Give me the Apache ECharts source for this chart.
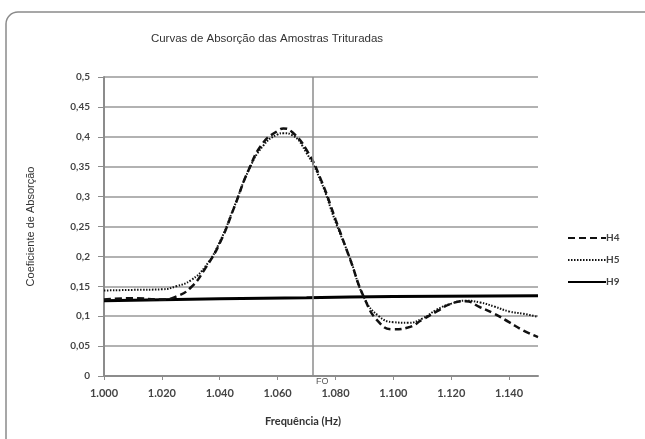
<!DOCTYPE html>
<html>
<head>
<meta charset="utf-8">
<script src="https://cdn.jsdelivr.net/npm/echarts@6/dist/echarts.min.js"></script>
<style>
  html, body { margin: 0; padding: 0; background: #fff; }
  #chart { width: 645px; height: 439px; }
</style>
</head>
<body>
<div id="chart"></div>
<script>
  // frequências (Hz) das leituras H4 / H5
  const freq = [1000, 1010, 1020, 1025, 1030, 1035, 1040, 1045, 1050, 1055, 1060, 1062, 1065, 1070, 1075,
    1080, 1085, 1090, 1095, 1100, 1105, 1110, 1115, 1120, 1125, 1130, 1135, 1140, 1145, 1150]
  const h4 = [0.128, 0.130, 0.128, 0.133, 0.148, 0.180, 0.222, 0.282, 0.345, 0.390, 0.410, 0.414, 0.408, 0.378, 0.328,
    0.262, 0.196, 0.130, 0.090, 0.078, 0.081, 0.094, 0.108, 0.121, 0.125, 0.115, 0.104, 0.090, 0.076, 0.065]
  const h5 = [0.143, 0.144, 0.145, 0.150, 0.160, 0.183, 0.224, 0.283, 0.344, 0.385, 0.404, 0.406, 0.403, 0.373, 0.325,
    0.258, 0.197, 0.130, 0.100, 0.090, 0.089, 0.096, 0.111, 0.121, 0.126, 0.123, 0.116, 0.108, 0.104, 0.099]
  const h9Freq = [1000, 1040, 1070, 1100, 1150]
  const h9 = [0.126, 0.129, 0.131, 0.133, 0.134]
  const foFreq = 1072

  const pairs = (xs, ys) => xs.map((x, i) => [x, ys[i]])

  const chart = echarts.init(document.getElementById('chart'))
  const font = 'Lato, "Open Sans", sans-serif'

  const option = {
    backgroundColor: '#fff',
    animation: false,
    title: {
      text: 'Curvas de Absorção das Amostras Trituradas',
      left: 262,
      top: 28,
      textAlign: 'center',
      textStyle: { fontFamily: 'Liberation Sans, Arial', fontSize: 11.5, fontWeight: 'normal', color: '#333' },
    },
    graphic: [
      {
        // moldura do gráfico
        type: 'rect',
        shape: { x: 6, y: 12, width: 700, height: 500, r: 12 },
        style: { fill: 'none', stroke: '#8a8a8a', lineWidth: 1.5 },
        z: -1,
      },
    ],
    legend: {
      orient: 'vertical',
      left: 562,
      top: 228,
      itemWidth: 38,
      itemHeight: 12,
      itemGap: 12,
      itemStyle: { opacity: 0 }, // só a linha, sem o círculo
      textStyle: { fontFamily: font, fontSize: 10, fontWeight: 'bold', color: '#444', padding: [0, 0, 0, -5] },
      data: ['H4', 'H5', 'H9'],
    },
    grid: { left: 104, right: 107, top: 77, bottom: 63 },
    xAxis: {
      type: 'value',
      min: 1000,
      max: 1150,
      interval: 20,
      name: 'Frequência (Hz)',
      nameLocation: 'middle',
      nameGap: 40,
      nameTextStyle: { fontFamily: font, fontSize: 11, fontWeight: 'bold', color: '#333', padding: [0, 36, 0, 0] },
      axisLine: { lineStyle: { color: '#8c8c8c', width: 2 } },
      axisTick: { show: true, length: 4, lineStyle: { color: '#8c8c8c' } },
      axisLabel: {
        margin: 12,
        showMaxLabel: false,
        fontFamily: font,
        fontSize: 11,
        fontWeight: 'bold',
        color: '#444',
        formatter: (v) => (v / 1000).toFixed(3),
      },
      splitLine: { show: false },
    },
    yAxis: {
      type: 'value',
      min: 0,
      max: 0.5,
      interval: 0.05,
      name: 'Coeficiente de Absorção',
      nameLocation: 'middle',
      nameGap: 68,
      nameTextStyle: { fontFamily: 'Liberation Sans, Arial', fontSize: 11, color: '#333' },
      axisLine: { show: true, lineStyle: { color: '#8c8c8c', width: 2 } },
      axisTick: { show: true, length: 6, lineStyle: { color: '#8c8c8c' } },
      axisLabel: {
        margin: 14,
        fontFamily: font,
        fontSize: 10,
        fontWeight: 'bold',
        color: '#444',
        formatter: (v) => String(+v.toFixed(2)).replace('.', ','),
      },
      splitLine: { lineStyle: { color: '#999', width: 1.5 } },
    },
    series: [
      {
        name: 'H4',
        type: 'line',
        smooth: true,
        symbol: 'none',
        lineStyle: { color: '#111', width: 2.5, type: [7, 4] },
        itemStyle: { color: '#111' },
        data: pairs(freq, h4),
        z: 3,
      },
      {
        name: 'H5',
        type: 'line',
        smooth: true,
        symbol: 'none',
        lineStyle: { color: '#111', width: 2, type: [1.5, 1.5] },
        itemStyle: { color: '#111' },
        data: pairs(freq, h5),
        z: 4,
      },
      {
        name: 'H9',
        type: 'line',
        smooth: true,
        symbol: 'none',
        lineStyle: { color: '#000', width: 3 },
        itemStyle: { color: '#000' },
        data: pairs(h9Freq, h9),
        z: 2,
        markLine: {
          silent: true,
          symbol: 'none',
          lineStyle: { color: '#8c8c8c', width: 1.5, type: 'solid' },
          label: {
            show: true,
            position: 'start',
            formatter: 'FO',
            fontFamily: 'Liberation Sans, Arial',
            fontSize: 9,
            color: '#555',
            distance: 1,
            padding: [0, 0, 0, 20],
          },
          data: [{ xAxis: foFreq }],
        },
      },
    ],
  }

  chart.setOption(option)
</script>
</body>
</html>
